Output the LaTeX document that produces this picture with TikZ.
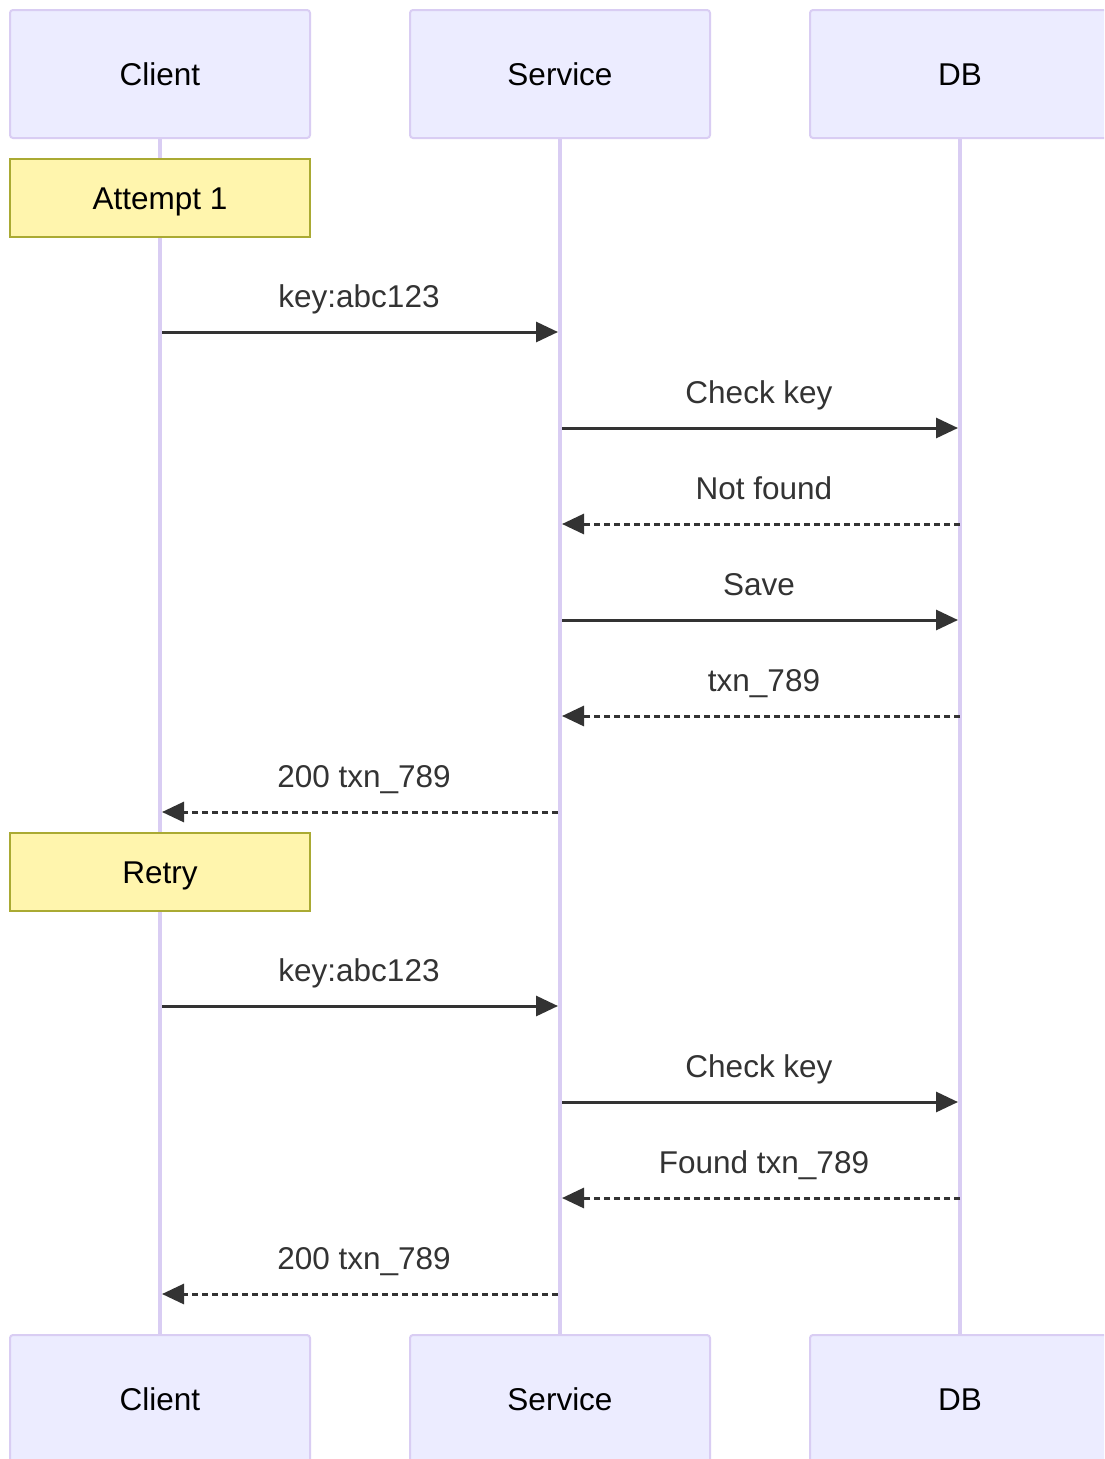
\documentclass[tikz,border=0pt]{standalone}
\usepackage{fontspec}
\setmainfont{Liberation Sans}
\usetikzlibrary{arrows.meta}
\definecolor{actfill}{HTML}{ECECFF}
\definecolor{actline}{HTML}{D9CDF3}
\definecolor{notefill}{HTML}{FFF5AD}
\definecolor{noteline}{HTML}{AAAA33}
\definecolor{msgc}{HTML}{333333}
\newcommand{\dfont}{\fontsize{31.5}{38}\selectfont}
\begin{document}
\begin{tikzpicture}[x=1pt,y=-1pt,
  actorbox/.style={draw=actline, fill=actfill, line width=2pt, rounded corners=3pt,
    minimum width=300pt, minimum height=128pt, inner sep=0pt, font=\dfont, text=black,
    text height=22.7pt, text depth=0pt},
  notebox/.style={draw=noteline, fill=notefill, line width=2pt,
    minimum width=300pt, minimum height=78pt, inner sep=0pt, font=\dfont, text=black,
    text height=22.7pt, text depth=0pt},
  lifeline/.style={draw=actline, line width=3.5pt},
  msgsolid/.style={draw=msgc, line width=3pt, -{Triangle[length=22pt,width=20pt]}},
  msgdash/.style={msgsolid, dash pattern=on 6pt off 4pt},
  lbl/.style={font=\dfont, text=msgc, anchor=base, inner sep=0pt}]
\useasboundingbox (0,0) rectangle (1104,1459);
\clip (0,0) rectangle (1104,1459);
\fill[white] (0,0) rectangle (1104,1459);

% actors
\node[actorbox] (cT) at (160,74) {Client};
\node[actorbox] (sT) at (560,74) {Service};
\node[actorbox] (dT) at (960,74) {DB};
\node[actorbox] (cB) at (160,1399) {Client};
\node[actorbox] (sB) at (560,1399) {Service};
\node[actorbox] (dB) at (960,1399) {DB};

% lifelines
\draw[lifeline] (cT.south) -- (cB.north);
\draw[lifeline] (sT.south) -- (sB.north);
\draw[lifeline] (dT.south) -- (dB.north);

% notes
\node[notebox] (n1) at (160,198) {Attempt 1};
\node[notebox] (n2) at (160,872) {Retry};

% message endpoints
\coordinate (m1a) at (162,332);  \coordinate (m1b) at (558,332);
\coordinate (m2a) at (562,428);  \coordinate (m2b) at (958,428);
\coordinate (m3a) at (960,524);  \coordinate (m3b) at (562,524);
\coordinate (m4a) at (562,620);  \coordinate (m4b) at (958,620);
\coordinate (m5a) at (960,716);  \coordinate (m5b) at (562,716);
\coordinate (m6a) at (558,812);  \coordinate (m6b) at (162,812);
\coordinate (m7a) at (162,1006); \coordinate (m7b) at (558,1006);
\coordinate (m8a) at (562,1102); \coordinate (m8b) at (958,1102);
\coordinate (m9a) at (960,1198); \coordinate (m9b) at (562,1198);
\coordinate (m10a) at (558,1294); \coordinate (m10b) at (162,1294);

\draw[msgsolid] (m1a) -- (m1b);
\draw[msgsolid] (m2a) -- (m2b);
\draw[msgdash] (m3a) -- (m3b);
\draw[msgsolid] (m4a) -- (m4b);
\draw[msgdash] (m5a) -- (m5b);
\draw[msgdash] (m6a) -- (m6b);
\draw[msgsolid] (m7a) -- (m7b);
\draw[msgsolid] (m8a) -- (m8b);
\draw[msgdash] (m9a) -- (m9b);
\draw[msgdash] (m10a) -- (m10b);

% labels
\node[lbl] (l1) at (359,307.5) {key:abc123};
\node[lbl] (l2) at (759,403.5) {Check key};
\node[lbl] (l3) at (764,499.5) {Not found};
\node[lbl] (l4) at (759,595.5) {Save};
\node[lbl] (l5) at (764,691.5) {txn\_789};
\node[lbl] (l6) at (364,787.5) {200 txn\_789};
\node[lbl] (l7) at (359,981.5) {key:abc123};
\node[lbl] (l8) at (759,1077.5) {Check key};
\node[lbl] (l9) at (764,1173.5) {Found txn\_789};
\node[lbl] (l10) at (364,1269.5) {200 txn\_789};
\end{tikzpicture}
\end{document}
